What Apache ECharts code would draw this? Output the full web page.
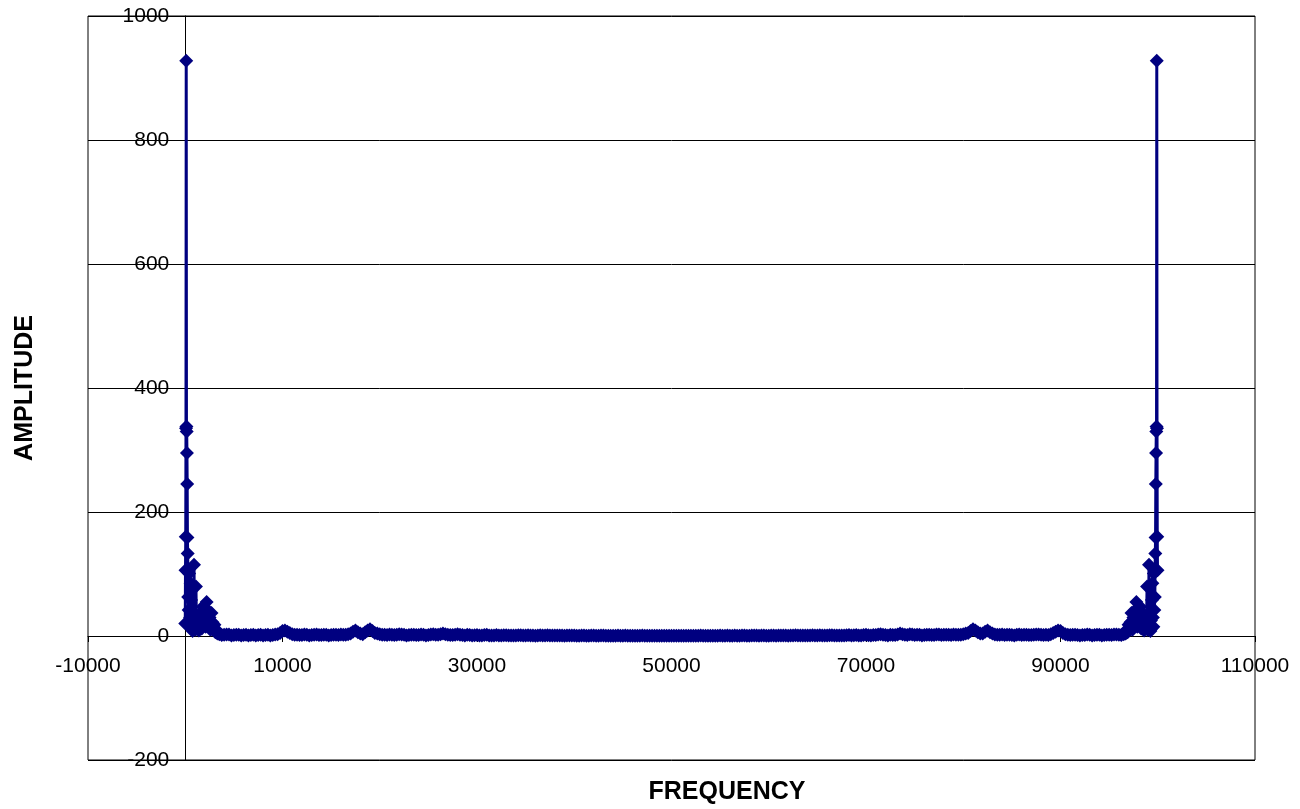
<!DOCTYPE html>
<html>
<head>
<meta charset="utf-8">
<script src="https://cdn.jsdelivr.net/npm/echarts@6/dist/echarts.min.js"></script>
<style>
html,body{margin:0;padding:0;background:#fff;}
#chart{width:1300px;height:809px;}
</style>
</head>
<body>
<div id="chart"></div>
<script>
// Low-frequency cluster (Hz, amplitude)
const lowFreq = [0,25,50,75,100,125,150,175,200,225,250,275,300,350,400,450,500,550,600,650,700,750,800,850,900,950,1000,1050,1100,1150,1200,1300,1400,1500,1600,1700,1800,1900,2000,2100,2200,2300,2400,2500,2600,2700,2800,2900,3000,3100,3200,3300,3400];
const lowAmp  = [20,106,160,335,928,338,330,295,245,159,133,108,63,42,101,15,30,85,58,12,25,8,28,18,115,20,35,10,80,22,14,30,9,25,38,12,47,20,30,15,55,42,18,30,10,37,22,12,18,6,10,4,5];

// Mid band (Hz)
const midFreq = [
 3500,3750,4000,4250,4500,4750,5000,5250,5500,5750,6000,6250,6500,6750,7000,7250,7500,7750,8000,8250,
 8500,8750,9000,9250,9500,9750,10000,10250,10500,10750,11000,11250,11500,11750,12000,12250,12500,12750,13000,13250,
 13500,13750,14000,14250,14500,14750,15000,15250,15500,15750,16000,16250,16500,16750,17000,17250,17500,17750,18000,18250,
 18500,18750,19000,19250,19500,19750,20000,20250,20500,20750,21000,21250,21500,21750,22000,22250,22500,22750,23000,23250,
 23500,23750,24000,24250,24500,24750,25000,25250,25500,25750,26000,26250,26500,26750,27000,27250,27500,27750,28000,28250,
 28500,28750,29000,29250,29500,29750,30000,30250,30500,30750,31000,31250,31500,31750,32000,32250,32500,32750,33000,33250,
 33500,33750,34000,34250,34500,34750,35000,35250,35500,35750,36000,36250,36500,36750,37000,37250,37500,37750,38000,38250,
 38500,38750,39000,39250,39500,39750,40000,40250,40500,40750,41000,41250,41500,41750,42000,42250,42500,42750,43000,43250,
 43500,43750,44000,44250,44500,44750,45000,45250,45500,45750,46000,46250,46500,46750,47000,47250,47500,47750,48000,48250,
 48500,48750,49000,49250,49500,49750,50000,50250,50500,50750,51000,51250,51500,51750,52000,52250,52500,52750,53000,53250,
 53500,53750,54000,54250,54500,54750,55000,55250,55500,55750,56000,56250,56500,56750,57000,57250,57500,57750,58000,58250,
 58500,58750,59000,59250,59500,59750,60000,60250,60500,60750,61000,61250,61500,61750,62000,62250,62500,62750,63000,63250,
 63500,63750,64000,64250,64500,64750,65000,65250,65500,65750,66000,66250,66500,66750,67000,67250,67500,67750,68000,68250,
 68500,68750,69000,69250,69500,69750,70000,70250,70500,70750,71000,71250,71500,71750,72000,72250,72500,72750,73000,73250,
 73500,73750,74000,74250,74500,74750,75000,75250,75500,75750,76000,76250,76500,76750,77000,77250,77500,77750,78000,78250,
 78500,78750,79000,79250,79500,79750,80000,80250,80500,80750,81000,81250,81500,81750,82000,82250,82500,82750,83000,83250,
 83500,83750,84000,84250,84500,84750,85000,85250,85500,85750,86000,86250,86500,86750,87000,87250,87500,87750,88000,88250,
 88500,88750,89000,89250,89500,89750,90000,90250,90500,90750,91000,91250,91500,91750,92000,92250,92500,92750,93000,93250,
 93500,93750,94000,94250,94500,94750,95000,95250,95500,95750,96000,96250,96500];
// Mid band (amplitude)
const midAmp = [
 3,1.5,2,2.5,2.5,1,1.5,2,2,1,1.5,2,1,1.5,2,1,1.5,2,1,1.5,
 2,1,1.5,2.5,3,5,8,9,7,5,3,2,2,1.5,1.5,2.5,2,1,1.5,2,
 2.5,1.5,1.5,2,2,1,1.5,2,2,1.5,2.5,2,2,3,4,7,9,6,4,3,
 6,9,11,8,5,4,3,2,2,1.5,2.5,2,1.5,2,3,2.5,2,1,1.5,2,
 2,1.5,1.5,2.5,2,1,1.5,2.5,3,2,2,3,4,3,2,1.5,1.5,2,3,2,
 1.5,1,2,1.5,1,1.2,1.5,1,1,1.5,2,1,1,0.8,1.5,1,0.8,1.2,1.2,0.9,
 1,0.8,0.7,1.1,1.3,0.9,0.8,1.2,1,0.7,0.6,1,1.2,0.8,0.9,1.1,0.7,0.9,1,0.8,
 0.8,1,0.6,0.7,1,0.8,0.7,0.5,0.5,0.8,0.9,0.6,0.6,0.9,0.8,0.6,0.5,0.7,0.7,0.5,
 0.6,0.5,0.4,0.6,0.7,0.4,0.5,0.7,0.6,0.5,0.4,0.6,0.5,0.4,0.7,0.5,0.4,0.6,0.5,0.3,
 0.6,0.5,0.4,0.6,0.5,0.4,0.3,0.5,0.5,0.6,0.4,0.3,0.6,0.5,0.4,0.6,0.5,0.4,0.7,0.5,
 0.4,0.5,0.6,0.4,0.5,0.6,0.7,0.5,0.4,0.7,0.6,0.5,0.8,0.6,0.5,0.7,0.7,0.5,0.6,0.8,
 0.9,0.7,0.6,0.8,0.8,0.6,0.5,0.8,0.9,0.6,0.7,0.9,1,0.8,0.6,0.7,0.8,1.1,1,0.7,
 0.7,1,0.9,0.8,1.2,0.9,0.7,1.1,1,0.8,0.8,1.2,1.3,0.9,0.7,1,1,0.8,1.2,1.5,
 1,1.2,1.5,1,1,1.5,2,1.2,1,1.5,1.5,2.5,3,2,1.5,1,2,1.5,1.5,2.5,
 4,3,2,1.5,3,2.5,1.5,2,2,1,1.5,2,2,1.5,1.5,2.5,2.5,1.5,2,2,
 2,1.5,2.5,2,2,2,3,4,5,8,11,9,6,4,4,7,9,6,4,2.5,
 2,2,2.5,1.5,2,2,1.5,1,2,2.5,1.5,2,2,1.5,1.5,2,2.5,2.5,2,1.5,
 2,1.5,3,5,7,9,8,5,3,2,1.5,2,2,1.5,1,1.5,1.5,2.5,2,1,
 1.5,2,2,1,1.5,2,2,1.5,2.5,2.5,2,1.5,3];

// High-frequency (mirror) cluster (Hz, amplitude)
const highFreq = [96600,96700,96800,96900,97000,97100,97200,97300,97400,97500,97600,97700,97800,97900,98000,98100,98200,98300,98400,98500,98600,98700,98800,98850,98900,98950,99000,99050,99100,99150,99200,99250,99300,99350,99400,99450,99500,99550,99600,99650,99700,99725,99750,99775,99800,99825,99850,99875,99900,99925,99950,99975];
const highAmp  = [5,4,10,6,18,12,22,37,10,30,18,42,55,15,30,20,47,12,38,25,9,30,14,22,80,10,35,20,115,18,28,8,25,12,58,85,30,15,101,42,63,108,133,159,245,295,330,338,928,335,160,106];

// Axis settings
const xMin = -10000, xMax = 110000, xStep = 20000;
const yMin = -200, yMax = 1000, yStep = 200;
const xTitle = 'FREQUENCY';
const yTitle = 'AMPLITUDE';

const freqs = lowFreq.concat(midFreq, highFreq);
const amps = lowAmp.concat(midAmp, highAmp);
const data = freqs.map((f, i) => [f, amps[i]]);

// grid geometry
const G = {left: 88, right: 45, top: 16, bottom: 49};
const W = 1300 - G.left - G.right, H = 809 - G.top - G.bottom;
// offsets so the axes cross at zero
const xAxisOffset = -((0 - yMin) / (yMax - yMin)) * H;
const yAxisOffset = -((0 - xMin) / (xMax - xMin)) * W;

const FONT = '"Liberation Sans", Arial, sans-serif';
const chart = echarts.init(document.getElementById('chart'), null, {renderer: 'canvas'});
chart.setOption({
  animation: false,
  backgroundColor: '#ffffff',
  grid: Object.assign({show: true, borderColor: '#000', borderWidth: 1, backgroundColor: '#fff'}, G),
  xAxis: {
    type: 'value', min: xMin, max: xMax, interval: xStep,
    position: 'bottom', offset: xAxisOffset,
    axisLine: {onZero: false, lineStyle: {color: '#000', width: 1}},
    axisTick: {show: true, length: 6, lineStyle: {color: '#000'}},
    axisLabel: {color: '#000', fontSize: 21, fontFamily: FONT, margin: 20, formatter: v => String(v)},
    splitLine: {show: false}
  },
  yAxis: {
    type: 'value', min: yMin, max: yMax, interval: yStep,
    position: 'left', offset: yAxisOffset,
    axisLine: {onZero: false, lineStyle: {color: '#000', width: 1}},
    axisTick: {show: true, length: 6, lineStyle: {color: '#000'}},
    axisLabel: {color: '#000', fontSize: 21, fontFamily: FONT, margin: 16, formatter: v => String(v)},
    splitLine: {show: true, lineStyle: {color: '#000', width: 1}}
  },
  graphic: [
    {type: 'text', x: 727, y: 792, style: {text: xTitle, font: 'bold 25px ' + FONT, fill: '#000', align: 'center', verticalAlign: 'middle'}},
    {type: 'text', x: 25, y: 388, rotation: Math.PI / 2, style: {text: yTitle, font: 'bold 25px ' + FONT, fill: '#000', align: 'center', verticalAlign: 'middle'}}
  ],
  series: [{
    type: 'line',
    data: data,
    symbol: 'diamond',
    symbolSize: 14,
    showSymbol: true,
    lineStyle: {color: '#000080', width: 3},
    itemStyle: {color: '#000080', borderWidth: 0},
    z: 5
  }]
});
</script>
</body>
</html>
